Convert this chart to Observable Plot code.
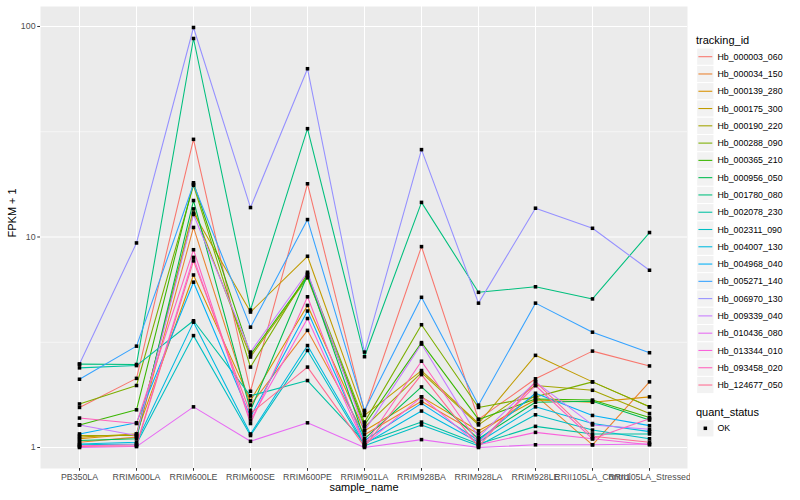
<!DOCTYPE html>
<html><head><meta charset="utf-8">
<script src="https://cdn.jsdelivr.net/npm/d3@7"></script>
<script src="https://cdn.jsdelivr.net/npm/@observablehq/plot@0.6"></script>
<style>
body{margin:0;background:#fff;}
#wrap{position:relative;width:800px;height:500px;font-family:"Liberation Sans",Arial,Helvetica,sans-serif;}
#chart{position:absolute;left:0;top:0;}
#legend{position:absolute;left:690px;top:0;font-family:"Liberation Sans",Arial,Helvetica,sans-serif;}
</style></head><body>
<div id="wrap"><div id="chart"></div><svg id="legend" width="110" height="500"></svg></div>
<script>
const samples = ["PB350LA","RRIM600LA","RRIM600LE","RRIM600SE","RRIM600PE","RRIM901LA","RRIM928BA","RRIM928LA","RRIM928LE","RRII105LA_Control","RRII105LA_Stressed"];
const trackingIds = ["Hb_000003_060","Hb_000034_150","Hb_000139_280","Hb_000175_300","Hb_000190_220","Hb_000288_090","Hb_000365_210","Hb_000956_050","Hb_001780_080","Hb_002078_230","Hb_002311_090","Hb_004007_130","Hb_004968_040","Hb_005271_140","Hb_006970_130","Hb_009339_040","Hb_010436_080","Hb_013344_010","Hb_093458_020","Hb_124677_050"];
const seriesColors = ["#F8766D","#EA8331","#D89000","#C09B00","#A3A500","#7CAE00","#39B600","#00BB4E","#00BF7D","#00C1A3","#00BFC4","#00BAE0","#00B0F6","#35A2FF","#9590FF","#C77CFF","#E76BF3","#FA62DB","#FF62BC","#FF6C91"];

// FPKM + 1 per sample (same order as samples)
const hb_000003_060 = [1.55, 2.13, 29.1, 1.85, 17.9, 1.47, 9.0, 1.36, 2.12, 2.87, 2.44];
const hb_000034_150 = [1.06, 1.12, 11.1, 1.59, 3.6, 1.15, 1.66, 1.16, 1.77, 1.03, 2.05];
const hb_000139_280 = [1.10, 1.16, 6.6, 1.67, 4.73, 1.2, 1.74, 1.2, 1.68, 1.64, 1.74];
const hb_000175_300 = [1.12, 1.16, 13.0, 4.4, 8.1, 1.42, 2.32, 1.3, 2.74, 2.05, 1.56];
const hb_000190_220 = [1.14, 1.14, 13.6, 2.69, 6.4, 1.25, 2.27, 1.28, 1.97, 1.87, 1.45];
const hb_000288_090 = [1.61, 1.97, 17.6, 2.41, 6.7, 1.32, 3.83, 1.55, 1.74, 2.05, 1.56];
const hb_000365_210 = [1.28, 1.51, 18.1, 2.76, 6.5, 1.28, 3.15, 1.36, 1.7, 1.68, 1.39];
const hb_000956_050 = [1.08, 1.1, 14.9, 1.5, 6.6, 1.1, 1.94, 1.1, 1.64, 1.66, 1.35];
const hb_001780_080 = [2.49, 2.48, 87.7, 4.5, 32.7, 2.7, 14.6, 5.46, 5.8, 5.08, 10.5];
const hb_002078_230 = [2.39, 2.45, 4.0, 1.76, 2.08, 1.06, 1.32, 1.04, 1.26, 1.16, 1.16];
const hb_002311_090 = [1.03, 1.04, 3.4, 1.14, 2.89, 1.02, 1.28, 1.02, 1.43, 1.21, 1.1];
const hb_004007_130 = [1.04, 1.06, 3.94, 1.16, 3.05, 1.04, 1.49, 1.06, 1.56, 1.3, 1.19];
const hb_004968_040 = [1.16, 1.31, 6.1, 1.4, 4.45, 1.08, 1.62, 1.08, 1.81, 1.42, 1.27];
const hb_005271_140 = [2.11, 3.03, 17.8, 3.73, 12.1, 1.5, 5.17, 1.59, 4.85, 3.53, 2.82];
const hb_006970_130 = [2.49, 9.37, 98.9, 13.8, 63, 2.84, 26.0, 4.85, 13.7, 11.0, 6.95];
const hb_009339_040 = [1.28, 1.14, 12.8, 2.84, 6.8, 1.2, 3.1, 1.12, 2.05, 1.28, 1.22];
const hb_010436_080 = [1.0, 1.01, 1.56, 1.07, 1.31, 1.0, 1.09, 1.0, 1.03, 1.03, 1.04];
const hb_013344_010 = [1.02, 1.03, 8.0, 1.35, 4.1, 1.03, 1.74, 1.03, 1.18, 1.1, 1.03];
const hb_093458_020 = [1.38, 1.3, 8.7, 1.3, 5.2, 1.03, 2.57, 1.05, 1.97, 1.1, 1.37];
const hb_124677_050 = [1.01, 1.02, 7.7, 1.45, 2.41, 1.01, 2.22, 1.01, 2.05, 1.13, 1.06];

const seriesValues = [hb_000003_060, hb_000034_150, hb_000139_280, hb_000175_300, hb_000190_220, hb_000288_090, hb_000365_210, hb_000956_050, hb_001780_080, hb_002078_230, hb_002311_090, hb_004007_130, hb_004968_040, hb_005271_140, hb_006970_130, hb_009339_040, hb_010436_080, hb_013344_010, hb_093458_020, hb_124677_050];
const yTicks = [1, 10, 100];
const yMinorTicks = [3.1623, 31.623];
const statusLevels = ["OK"];

const rows = trackingIds.flatMap((id, i) => samples.map((s, j) => ({id, sample: s, value: seriesValues[i][j], status: statusLevels[0]})));
const allVals = rows.map(d => d.value);
const lo = Math.log10(d3.min(allVals)), hi = Math.log10(d3.max(allVals));
const pad = 0.05 * (hi - lo);
const yDomain = [Math.pow(10, lo - pad), Math.pow(10, hi + pad)];

const plot = Plot.plot({
  width: 690, height: 500,
  marginLeft: 40, marginRight: 3, marginTop: 6, marginBottom: 32,
  style: {fontFamily: '"Liberation Sans", Arial, Helvetica, sans-serif', fontSize: "8.8px", color: "#4D4D4D", background: "white"},
  x: {type: "point", domain: samples, padding: 0.6},
  y: {type: "log", domain: yDomain},
  color: {domain: trackingIds, range: seriesColors},
  marks: [
    Plot.frame({fill: "#EBEBEB", stroke: null}),
    Plot.ruleY(yMinorTicks, {stroke: "white", strokeWidth: 0.55}),
    Plot.ruleY(yTicks, {stroke: "white", strokeWidth: 1.07}),
    Plot.ruleX(samples, {stroke: "white", strokeWidth: 1.07}),
    Plot.axisY({ticks: yTicks, tickFormat: d => String(d), tickSize: 2.75, tickPadding: 2.2, stroke: "#333333", label: null}),
    Plot.axisX({tickSize: 2.75, tickPadding: 2.2, stroke: "#333333", label: null}),
    Plot.line(rows, {x: "sample", y: "value", z: "id", stroke: "id", strokeWidth: 1.07}),
    Plot.dot(rows, {x: "sample", y: "value", symbol: "square", r: 2, fill: "black", stroke: null}),
    Plot.text(["FPKM + 1"], {frameAnchor: "left", dx: -28, rotate: -90, fontSize: 11, fill: "black"}),
    Plot.text(["sample_name"], {frameAnchor: "bottom", dy: 22, fontSize: 11, fill: "black"})
  ]
});
document.getElementById("chart").appendChild(plot);

// legend
const leg = d3.select("#legend");
const keyX = 6.7, keySize = 17.28;
leg.append("text").attr("x", 6).attr("y", 40).attr("dy", "0.35em").attr("font-size", 11).attr("fill", "black").text("tracking_id");
trackingIds.forEach((id, i) => {
  const cy = 56.7 + i * keySize;
  leg.append("rect").attr("x", keyX).attr("y", cy - keySize / 2).attr("width", keySize).attr("height", keySize)
    .attr("fill", "#F2F2F2").attr("stroke", "white").attr("stroke-width", 1);
  leg.append("line").attr("x1", keyX + 1.7).attr("x2", keyX + keySize - 1.7).attr("y1", cy).attr("y2", cy)
    .attr("stroke", seriesColors[i]).attr("stroke-width", 1.07);
  leg.append("text").attr("x", keyX + keySize + 3.5).attr("y", cy).attr("dy", "0.35em").attr("font-size", 8.8).attr("fill", "black").text(id);
});
leg.append("text").attr("x", 6).attr("y", 411.7).attr("dy", "0.35em").attr("font-size", 11).attr("fill", "black").text("quant_status");
statusLevels.forEach((s, i) => {
  const cy = 428.3 + i * keySize;
  leg.append("rect").attr("x", keyX).attr("y", cy - keySize / 2).attr("width", keySize).attr("height", keySize)
    .attr("fill", "#F2F2F2").attr("stroke", "white");
  leg.append("rect").attr("x", keyX + keySize / 2 - 1.75).attr("y", cy - 1.75).attr("width", 3.5).attr("height", 3.5).attr("fill", "black");
  leg.append("text").attr("x", keyX + keySize + 3.5).attr("y", cy).attr("dy", "0.35em").attr("font-size", 8.8).attr("fill", "black").text(s);
});
</script></body></html>
